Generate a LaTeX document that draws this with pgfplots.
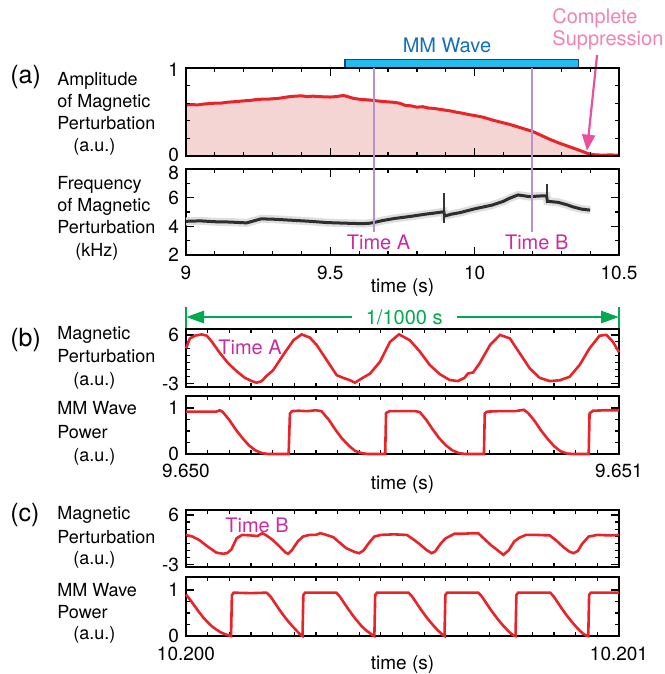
\documentclass[border=0pt]{standalone}
\usepackage{fontspec}
\setmainfont{TeX Gyre Heros}
\usepackage{pgfplots}
\usepackage{pgfplotstable}
\pgfplotsset{compat=1.18}
\usetikzlibrary{arrows.meta}

\definecolor{redline}{RGB}{232,36,40}
\definecolor{ampfill}{RGB}{245,212,212}
\definecolor{timeline}{RGB}{185,145,205}
\definecolor{timetext}{RGB}{200,45,160}
\definecolor{mmfill}{RGB}{30,190,240}
\definecolor{mmedge}{RGB}{40,60,150}
\definecolor{mmtext}{RGB}{20,110,190}
\definecolor{supptext}{RGB}{242,130,180}
\definecolor{supparrow}{RGB}{235,80,160}
\definecolor{spanline}{RGB}{0,170,80}

% amplitude of the perturbation, panel (a)
\pgfplotstableread{
t v
9.00 0.58
9.02 0.585
9.04 0.58
9.06 0.59
9.08 0.595
9.10 0.60
9.12 0.60
9.14 0.61
9.16 0.615
9.18 0.62
9.20 0.627
9.22 0.63
9.24 0.64
9.26 0.645
9.28 0.645
9.30 0.65
9.32 0.655
9.34 0.665
9.36 0.675
9.38 0.68
9.40 0.684
9.42 0.675
9.44 0.68
9.46 0.675
9.48 0.672
9.50 0.67
9.52 0.675
9.545 0.688
9.56 0.675
9.58 0.655
9.60 0.645
9.62 0.64
9.64 0.635
9.66 0.627
9.68 0.62
9.70 0.615
9.72 0.61
9.74 0.60
9.76 0.575
9.78 0.57
9.80 0.555
9.82 0.56
9.84 0.545
9.86 0.54
9.88 0.53
9.90 0.52
9.92 0.51
9.94 0.495
9.96 0.485
9.98 0.47
10.00 0.46
10.03 0.44
10.06 0.41
10.09 0.385
10.12 0.36
10.15 0.33
10.18 0.30
10.20 0.28
10.23 0.235
10.26 0.19
10.29 0.15
10.32 0.115
10.35 0.08
10.375 0.05
10.39 0.03
10.41 0.015
10.44 0.01
10.47 0.012
10.50 0.01
}\amptable

% frequency of the perturbation (kHz)
\pgfplotstableread{
t f
9.00 4.35
9.05 4.38
9.10 4.32
9.15 4.30
9.21 4.24
9.26 4.52
9.30 4.50
9.37 4.42
9.43 4.35
9.49 4.26
9.55 4.22
9.60 4.19
9.63 4.20
9.65 4.26
9.68 4.40
9.72 4.54
9.78 4.70
9.83 4.85
9.87 4.95
9.893 5.02
9.896 4.72
9.92 4.85
9.95 4.96
10.00 5.22
10.06 5.48
10.10 5.75
10.12 5.95
10.15 6.19
10.19 6.07
10.23 6.12
10.249 6.12
10.252 5.75
10.29 5.67
10.32 5.5
10.34 5.36
10.37 5.2
10.40 5.13
}\freqtable

% time A, microseconds after 9.650 s
\pgfplotstableread{
t v
0 3.5
9 5.35
21 5.85
36 6.1
48 5.85
60 4.7
79 2.55
98 0.67
117 -0.76
136 -2.0
152 -2.6
163 -2.9
175 -2.6
186 -1.64
201 -0.6
224 2.2
248 5.0
267 6.1
286 5.5
302 4.1
325 1.3
348 -1.5
363 -2.0
379 -2.45
390 -2.9
406 -2.1
425 -1.2
448 1.0
471 4.7
492 6.1
517 5.0
540 2.9
563 0.4
586 -1.3
609 -2.4
628 -2.6
643 -2.0
651 -1.2
663 -1.0
678 0.7
702 4.1
725 6.0
748 5.35
771 2.55
794 -0.25
817 -2.0
840 -2.6
863 -2.45
886 -1.8
909 0.4
932 3.5
955 5.85
971 6.0
986 4.7
1000 2.8
}\pertA

\pgfplotstableread{
t p
0 0.92
70 0.92
78 0.95
85 0.91
100 0.74
115 0.53
130 0.35
145 0.19
160 0.08
175 0.02
190 0.0
237 0.0
240 0.88
245 0.93
260 0.94
280 0.93
300 0.95
313 0.93
330 0.74
345 0.53
360 0.34
375 0.19
390 0.07
405 0.02
420 0.0
460 0.0
462 0.89
470 0.93
500 0.93
530 0.93
540 0.91
555 0.74
570 0.53
585 0.34
600 0.19
615 0.08
630 0.02
645 0.0
688 0.0
690 0.88
695 0.92
720 0.93
760 0.93
780 0.96
790 0.89
805 0.72
820 0.51
835 0.33
850 0.17
865 0.06
880 0.01
895 0.0
930 0.0
932 0.88
940 0.94
970 0.95
1000 0.95
}\powA

% time B, microseconds after 10.200 s
\pgfplotstableread{
t v
0 2.4
15 2.1
30 1.5
50 0.3
70 -0.8
85 -1.0
95 -0.9
105 -0.2
117 1.8
130 2.4
150 2.3
165 2.2
176 2.7
186 2.3
200 1.5
215 0.4
230 -0.8
236 -1.0
245 -0.3
258 1.2
270 2.1
285 2.4
300 2.4
310 2.7
320 2.5
340 2.0
355 1.0
370 0.0
390 -0.7
400 -0.9
410 -0.4
425 1.2
435 2.1
450 2.4
480 2.5
510 2.4
525 1.6
540 0.7
555 -0.3
567 -0.9
575 -0.6
590 1.0
600 1.8
620 2.6
640 2.6
660 2.7
675 2.7
690 1.6
705 0.5
720 -0.4
733 -1.2
745 -0.4
758 1.2
770 1.9
785 2.4
810 2.4
840 2.3
855 1.4
870 0.3
885 -0.6
895 -0.9
905 -0.5
915 0.8
930 2.1
950 2.4
980 2.3
1000 2.4
}\pertB

\pgfplotstableread{
t p
0 0.90
10 0.78
20 0.65
30 0.52
40 0.40
50 0.30
60 0.21
70 0.14
80 0.08
90 0.04
100 0.01
104 0.0
106 0.88
110 0.94
150 0.93
186 0.94
195 0.86
205 0.72
215 0.58
225 0.45
235 0.33
245 0.22
255 0.12
262 0.05
267 0.01
269 0.0
271 0.89
275 0.94
320 0.94
347 0.94
355 0.86
365 0.72
375 0.58
385 0.45
395 0.33
405 0.22
415 0.13
425 0.06
432 0.01
435 0.0
437 0.89
441 0.94
514 0.94
522 0.86
532 0.72
542 0.58
552 0.45
562 0.33
572 0.22
582 0.12
590 0.05
595 0.01
597 0.0
599 0.89
603 0.94
675 0.94
683 0.86
693 0.72
703 0.58
713 0.45
723 0.33
733 0.22
743 0.12
751 0.05
757 0.01
761 0.0
763 0.89
767 0.94
841 0.94
849 0.86
859 0.72
869 0.58
879 0.45
889 0.33
899 0.22
909 0.12
917 0.05
925 0.01
929 0.0
931 0.89
935 0.94
1000 0.94
}\powB

\pgfplotsset{
  panel/.style={
      scale only axis,
      width=216.5pt,
      anchor=south west,
      axis line style={line width=0.9pt},
      tick style={black, line width=0.6pt},
      major tick length=4pt,
      minor tick length=2.2pt,
      tick label style={font=\fontsize{9.5}{11}\selectfont},
      yticklabel style={inner ysep=0pt, text height=6.8pt, text depth=0pt},
      clip=false,
    },
  slow/.style={
      xmin=9, xmax=10.5,
      xtick={9,9.5,10,10.5},
      minor xtick={9.1,9.2,9.3,9.4,9.6,9.7,9.8,9.9,10.1,10.2,10.3,10.4},
    },
  fast/.style={
      xmin=0, xmax=1000,
      xtick={0,1000},
      minor xtick={50,100,...,950},
    },
  pert/.style={
      ytick={-3,6}, yticklabels={-3,6},
      minor ytick={-1.714,-0.429,0.857,2.143,3.429,4.714},
    },
  pow/.style={
      ytick={0,1}, yticklabels={0,1},
      minor ytick={0.25,0.5,0.75},
    },
}

\tikzset{
  lab/.style={anchor=west, inner sep=0pt, font=\fontsize{9}{11}\selectfont,
      text height=6.5pt, text depth=0pt},
  letter/.style={anchor=west, inner sep=0pt, font=\fontsize{12.5}{14}\selectfont},
  timelab/.style={text=timetext, inner sep=0pt, font=\fontsize{10}{12}\selectfont},
}

\begin{document}
\begin{tikzpicture}
\useasboundingbox (0,0) rectangle (332pt,337pt);

% (a) amplitude
\begin{axis}[panel, slow, at={(93pt,259pt)}, height=44pt,
    ymin=0, ymax=1, xticklabels={},
    ytick={0,1}, yticklabels={\raisebox{0.8pt}{0},\raisebox{-1pt}{1}},
    minor ytick={0.2,0.4,0.6,0.8},
    axis on top]
  \addplot[fill=ampfill, draw=none] table {\amptable} \closedcycle;
  \addplot[redline, line width=1.5pt] table {\amptable};
  \draw[fill=mmfill, draw=mmedge, line width=0.8pt]
    (axis cs:9.55,1) rectangle (axis cs:10.36,1.095);
  \node[text=mmtext, font=\fontsize{10}{12}\selectfont] at (axis cs:9.904,1.26) {MM Wave};
  \node[text=supptext, anchor=west, align=left, inner sep=0pt,
        font=\fontsize{10}{11}\selectfont] at (axis cs:10.268,1.443)
    {Complete\\Suppression};
  \draw[supparrow, line width=1.1pt, -{Triangle[width=6.5pt,length=8pt]}]
    (axis cs:10.424,1.148) -- (axis cs:10.389,0.06);
\end{axis}

% (a) frequency
\begin{axis}[panel, slow, at={(93pt,209.5pt)}, height=43pt,
    ymin=2, ymax=8, xticklabels={9,9.5,10,10.5},
    xticklabel style={yshift=-2pt},
    ytick={2,4,6,8}, yticklabels={2,4,6,\raisebox{-1.7pt}{8}},
    minor ytick={3,5,7}]
  \addplot[black!13, line width=4pt] table {\freqtable};
  \addplot[black!80, line width=0.7pt] coordinates {(9.894,4.25) (9.894,6.3)};
  \addplot[black!80, line width=0.7pt] coordinates {(10.250,5.6) (10.250,6.95)};
  \addplot[black!82, line width=1.5pt] table {\freqtable};
  \draw[timeline, line width=1pt] (axis cs:9.65,3.6) -- (axis cs:9.65,15.04);
  \draw[timeline, line width=1pt] (axis cs:10.2,3.6) -- (axis cs:10.2,15.04);
  \node[timelab] at (axis cs:9.667,2.9) {Time A};
  \node[timelab] at (axis cs:10.215,2.9) {Time B};
\end{axis}

% (b) time A
\begin{axis}[panel, fast, pert, at={(93pt,143.5pt)}, height=29pt,
    ymin=-3.7, ymax=7.1, xticklabels={}]
  \addplot[redline, line width=1.3pt] table {\pertA};
  \node[timelab] at (axis cs:148,3.75) {Time A};
  \draw[spanline, line width=1.4pt,
        {Triangle[width=6pt,length=9pt]}-{Triangle[width=6pt,length=9pt]}]
    (axis cs:0,9.33) -- (axis cs:1000,9.33);
  \draw[spanline, line width=1pt] (axis cs:0,7.29) -- (axis cs:0,11.2);
  \draw[spanline, line width=1pt] (axis cs:1000,7.29) -- (axis cs:1000,11.2);
  \node[fill=white, text=spanline, inner xsep=7pt, inner ysep=1pt,
        font=\fontsize{10}{12}\selectfont] at (axis cs:504,9.33) {1/1000 s};
\end{axis}

\begin{axis}[panel, fast, pow, at={(93pt,110pt)}, height=29pt,
    ymin=0, ymax=1.26, xticklabels={9.650,9.651},
    xticklabel style={yshift=-1.5pt}]
  \addplot[redline, line width=1.3pt] table {\powA};
\end{axis}

% (c) time B
\begin{axis}[panel, fast, pert, at={(93pt,53.5pt)}, height=28.5pt,
    ymin=-3.4, ymax=6.9, xticklabels={}]
  \addplot[redline, line width=1.3pt] table {\pertB};
  \node[timelab] at (axis cs:164,4.2) {Time B};
\end{axis}

\begin{axis}[panel, fast, pow, at={(93pt,19pt)}, height=29.5pt,
    ymin=0, ymax=1.28, xticklabels={10.200,10.201},
    xticklabel style={yshift=-2pt}]
  \addplot[redline, line width=1.3pt] table {\powB};
\end{axis}

% axis titles
\node[font=\fontsize{9.5}{11}\selectfont] at (201.25pt,193pt) {time (s)};
\node[font=\fontsize{9.5}{11}\selectfont] at (201.25pt,94.5pt) {time (s)};
\node[font=\fontsize{9.5}{11}\selectfont] at (201.25pt,4.6pt) {time (s)};

% panel letters
\node[letter] at (5pt,298.5pt) {(a)};
\node[letter] at (5pt,167pt) {(b)};
\node[letter] at (5pt,79.5pt) {(c)};

% side labels
\node[lab] at (28.5pt,297.5pt) {Amplitude};
\node[lab] at (28.5pt,286.5pt) {of Magnetic};
\node[lab] at (28.5pt,275.5pt) {Perturbation};
\node[lab] at (36.5pt,264.5pt) {(a.u.)};

\node[lab] at (28.5pt,245.5pt) {Frequency};
\node[lab] at (28.5pt,234.5pt) {of Magnetic};
\node[lab] at (28.5pt,223.5pt) {Perturbation};
\node[lab] at (37.5pt,212pt) {(kHz)};

\node[lab] at (28.5pt,170.5pt) {Magnetic};
\node[lab] at (28.5pt,159pt) {Perturbation};
\node[lab] at (36.5pt,147.5pt) {(a.u.)};
\node[lab] at (28.5pt,133pt) {MM Wave};
\node[lab] at (28.5pt,121pt) {Power};
\node[lab] at (36.5pt,109.5pt) {(a.u.)};

\node[lab] at (28.5pt,80.5pt) {Magnetic};
\node[lab] at (28.5pt,68.5pt) {Perturbation};
\node[lab] at (36.5pt,58pt) {(a.u.)};
\node[lab] at (28.5pt,42pt) {MM Wave};
\node[lab] at (28.5pt,31pt) {Power};
\node[lab] at (36.5pt,20.5pt) {(a.u.)};
\end{tikzpicture}
\end{document}
